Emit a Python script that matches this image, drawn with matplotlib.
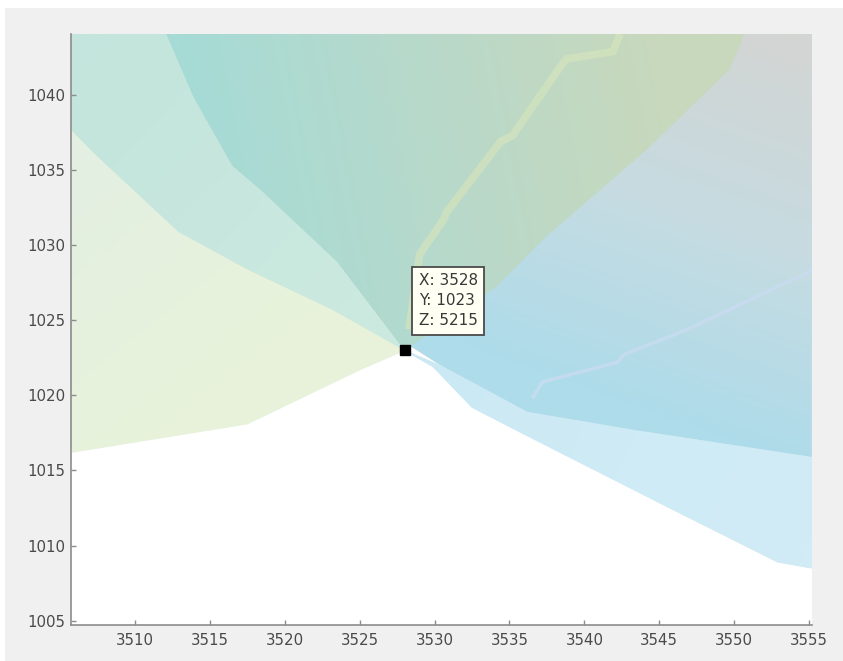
import numpy as np
import matplotlib
matplotlib.use("Agg")
from matplotlib import pyplot as plt
from matplotlib.patches import Polygon, Rectangle
from matplotlib.colors import LinearSegmentedColormap

# Data tip on the surface vertex where all the patches meet
tip_x, tip_y, tip_z = 3528, 1023, 5215

# Patch outlines of the surface as seen from above (x, y)
green_x = [3505.73, 3507.2, 3512.9, 3517.5, 3523.2, tip_x, 3525.0, 3517.5, 3505.73]
green_y = [1037.7, 1036.2, 1030.9, 1028.4, 1025.7, tip_y, 1021.7, 1018.1, 1016.2]

pale_teal_x = [3505.73, 3505.73, 3507.2, 3512.9, 3517.5, 3523.2, tip_x,
               3523.5, 3518.5, 3516.5, 3513.9, 3512.1]
pale_teal_y = [1044.07, 1037.7, 1036.2, 1030.9, 1028.4, 1025.7, tip_y,
               1028.9, 1033.6, 1035.3, 1039.9, 1044.07]

teal_x = [3512.1, 3513.9, 3516.5, 3518.5, 3523.5, tip_x,
          3534.2, 3537.5, 3544.2, 3549.7, 3550.7]
teal_y = [1044.07, 1039.9, 1035.3, 1033.6, 1028.9, tip_y,
          1027.3, 1030.6, 1036.4, 1041.7, 1044.07]

blue_x = [3550.7, 3555.16, 3555.16, 3543.3, 3536.2, 3530.6, 3528.4, tip_x,
          3534.2, 3537.5, 3544.2, 3549.7]
blue_y = [1044.07, 1044.07, 1015.9, 1017.7, 1018.9, 1021.9, 1023.3, tip_y,
          1027.3, 1030.6, 1036.4, 1041.7]

sky_x = [tip_x, 3529.9, 3532.5, 3536.2, 3545.5, 3552.9, 3555.16, 3555.16,
         3543.3, 3536.2, 3530.6]
sky_y = [tip_y, 1021.9, 1019.2, 1017.3, 1012.6, 1008.9, 1008.5, 1015.9,
         1017.7, 1018.9, 1021.9]

# Ridge lines crossing the patches
ridge_x = [3528.3, 3529.0, 3530.6, 3530.8, 3534.4, 3535.2, 3538.4, 3538.8, 3541.9, 3542.4]
ridge_y = [1024.4, 1029.4, 1031.7, 1032.2, 1036.9, 1037.3, 1041.9, 1042.4, 1042.9, 1044.07]

crest_x = [3536.6, 3537.2, 3542.2, 3542.6, 3546.9, 3555.16]
crest_y = [1019.9, 1020.9, 1022.2, 1022.7, 1024.4, 1028.3]

x_ticks = [3510, 3515, 3520, 3525, 3530, 3535, 3540, 3545, 3550, 3555]
y_ticks = [1005, 1010, 1015, 1020, 1025, 1030, 1035, 1040]


def shade(ax, xs, ys, p0, p1, colors):
    # fill a polygon with a linear colour ramp running from p0 to p1
    poly = Polygon(np.column_stack([xs, ys]), closed=True,
                   facecolor=colors[len(colors) // 2], edgecolor=colors[len(colors) // 2],
                   lw=0.6, zorder=1)
    ax.add_patch(poly)
    x0, x1, y0, y1 = min(xs), max(xs), min(ys), max(ys)
    gx, gy = np.meshgrid(np.linspace(x0, x1, 300), np.linspace(y0, y1, 300))
    d = np.subtract(p1, p0)
    t = ((gx - p0[0]) * d[0] + (gy - p0[1]) * d[1]) / np.dot(d, d)
    cmap = LinearSegmentedColormap.from_list("ramp", colors)
    im = ax.imshow(np.clip(t, 0, 1), cmap=cmap, vmin=0, vmax=1, extent=[x0, x1, y0, y1],
                   origin="lower", aspect="auto", interpolation="bilinear", zorder=1.1)
    im.set_clip_path(poly)


fig = plt.figure(figsize=(8.43, 6.61), dpi=100, facecolor="white")
fig.add_artist(Rectangle((5 / 843, 0), 1, 653 / 661, transform=fig.transFigure,
                         facecolor="#f0f0f0", edgecolor="none", zorder=-1))
ax = fig.add_axes([71 / 843, 36 / 661, (811.5 - 71) / 843, (626 - 35) / 661])
ax.set_facecolor("white")

shade(ax, green_x, green_y, (3507, 1036), (3521, 1018), ["#e3efe1", "#e7f2dd", "#e9f3da"])
shade(ax, pale_teal_x, pale_teal_y, (3507, 1042), (3524, 1026), ["#c3e5dc", "#c7e7de", "#cbe9df"])
shade(ax, teal_x, teal_y, (3515, 1033), (3546, 1039), ["#a6dbd6", "#b8d9ca", "#c8d8bc"])
shade(ax, blue_x, blue_y, (3553, 1044), (3544, 1019), ["#d3d5d3", "#c6dbe1", "#aedcea"])
shade(ax, sky_x, sky_y, (3530, 1021), (3555, 1010), ["#cbe9f4", "#cfebf5", "#d1ecf6"])

ax.plot(ridge_x, ridge_y, color="#d3e3bd", lw=5.5, alpha=0.75, solid_joinstyle="miter",
        solid_capstyle="butt", zorder=2)
ax.plot(crest_x, crest_y, color="#c8dcf0", lw=2.5, alpha=0.85, zorder=2)

ax.plot([tip_x], [tip_y], marker="s", color="black", markersize=7.5, zorder=5)
ax.annotate(f"X: {tip_x}\nY: {tip_y}\nZ: {tip_z}", xy=(tip_x, tip_y),
            xytext=(14, 22), textcoords="offset pixels", ha="left", va="bottom",
            fontsize=11, color="#383838", linespacing=1.42, zorder=6,
            bbox=dict(boxstyle="square,pad=0.42", facecolor="#fffff3",
                      edgecolor="#4a4a4a", lw=1.3))

ax.set_xlim(3505.73, 3555.16)
ax.set_ylim(1004.71, 1044.07)
ax.set_xticks(x_ticks)
ax.set_yticks(y_ticks)
for side in ("top", "right"):
    ax.spines[side].set_visible(False)
for side in ("left", "bottom"):
    ax.spines[side].set_color("#8c8c8c")
    ax.spines[side].set_linewidth(1.2)
    ax.spines[side].set_zorder(4)
ax.tick_params(direction="in", length=3.8, width=1, color="#8c8c8c",
               labelcolor="#4a4a4a", labelsize=10.8)
ax.tick_params(axis="x", pad=6)
ax.tick_params(axis="y", pad=4)

fig.savefig("out.png", dpi=100, facecolor=fig.get_facecolor())
